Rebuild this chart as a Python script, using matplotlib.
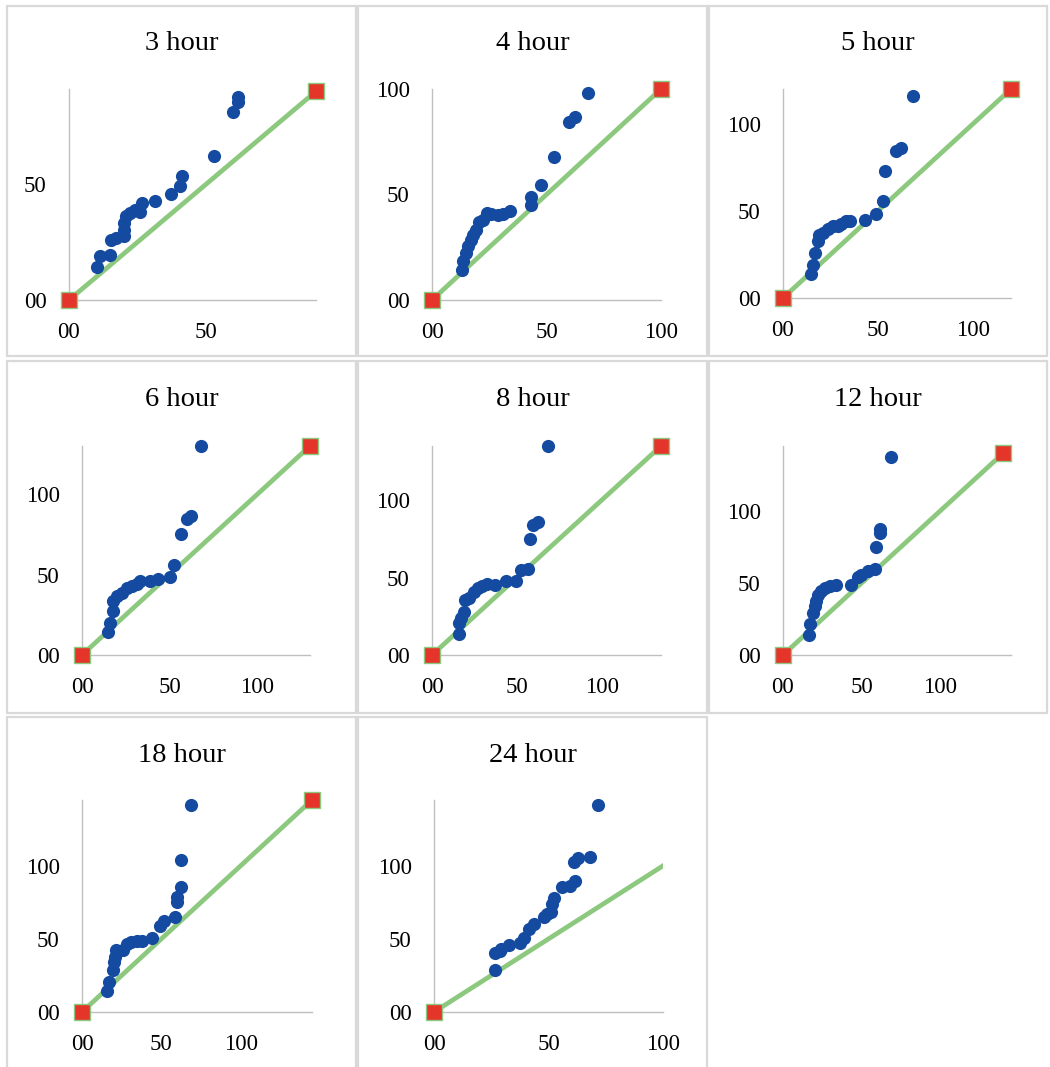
import matplotlib.pyplot as plt
from matplotlib.patches import Rectangle

plt.rcParams['font.family'] = ['Liberation Serif', 'DejaVu Serif']

# observed vs expected, one list pair per duration
titles = ['3 hour', '4 hour', '5 hour', '6 hour', '8 hour', '12 hour', '18 hour', '24 hour']

x_3h = [10.3, 11.2, 14.9, 15.2, 17.2, 19.9, 19.9, 20.2, 20.6, 22.1, 23.9, 25.7, 26.7, 31.4, 37.0, 40.6, 41.0, 52.9, 59.9, 61.7, 61.7]
y_3h = [14.1, 18.8, 19.6, 25.7, 26.8, 27.5, 30.4, 33.3, 36.2, 37.7, 38.8, 38.1, 41.7, 42.8, 45.7, 49.0, 53.3, 62.0, 81.2, 85.2, 87.7]

x_4h = [13.1, 13.6, 15.0, 15.7, 17.2, 17.9, 19.4, 20.4, 22.3, 24.2, 25.9, 28.9, 31.0, 34.0, 43.4, 43.4, 47.8, 53.1, 59.9, 62.4, 68.2]
y_4h = [14.0, 18.7, 22.2, 25.4, 28.6, 31.0, 33.3, 36.8, 38.1, 41.3, 40.8, 40.5, 40.8, 42.1, 45.2, 48.9, 54.3, 67.6, 84.4, 86.5, 97.9]

x_5h = [14.8, 15.7, 16.6, 18.3, 19.2, 20.9, 23.6, 26.2, 28.8, 30.5, 33.2, 35.3, 43.1, 48.9, 52.7, 53.6, 59.7, 62.0, 68.4]
y_5h = [14.0, 19.2, 25.9, 32.6, 36.4, 37.4, 39.7, 41.2, 41.6, 42.7, 44.1, 44.4, 45.0, 48.3, 55.6, 72.8, 84.3, 86.2, 115.9]

x_6h = [15.1, 16.0, 17.9, 17.9, 20.2, 22.6, 25.5, 28.3, 31.1, 33.0, 38.7, 43.4, 50.0, 52.5, 56.2, 60.0, 62.3, 67.9]
y_6h = [14.2, 19.8, 27.5, 33.8, 36.5, 38.5, 41.7, 42.7, 44.2, 45.8, 45.8, 47.3, 48.3, 55.8, 75.0, 84.4, 86.5, 130.0]

x_8h = [15.7, 15.7, 17.3, 18.9, 19.7, 22.0, 24.6, 27.2, 29.5, 32.5, 37.0, 43.9, 49.4, 52.2, 56.7, 57.7, 59.6, 62.2, 68.5]
y_8h = [13.4, 20.5, 23.7, 28.0, 35.6, 37.0, 40.9, 43.5, 44.8, 45.7, 45.3, 47.8, 48.1, 55.0, 55.6, 74.8, 84.1, 86.2, 134.7]

x_12h = [16.3, 16.9, 19.1, 20.6, 21.2, 22.2, 24.4, 26.9, 29.7, 33.9, 43.4, 47.7, 49.8, 54.0, 58.3, 59.3, 61.9, 61.9, 68.4]
y_12h = [14.0, 21.4, 29.1, 33.7, 37.7, 41.9, 44.2, 46.5, 48.1, 48.8, 48.8, 54.0, 55.8, 58.6, 59.8, 74.9, 84.4, 87.2, 137.2]

x_18h = [15.8, 16.8, 19.6, 20.0, 20.6, 21.7, 25.9, 28.6, 31.2, 34.5, 37.7, 44.2, 49.1, 51.6, 58.5, 59.6, 60.0, 62.1, 62.1, 68.6]
y_18h = [14.1, 20.5, 28.9, 34.1, 37.5, 42.5, 42.5, 46.6, 47.7, 48.9, 48.4, 50.7, 59.1, 62.5, 65.2, 75.0, 78.4, 85.7, 103.9, 141.4]

x_24h = [26.5, 26.5, 28.7, 29.4, 32.6, 37.6, 39.5, 41.7, 43.8, 48.2, 49.3, 51.1, 51.4, 52.5, 55.7, 59.5, 61.6, 61.2, 62.9, 68.2, 71.8]
y_24h = [28.4, 40.2, 42.0, 43.2, 46.1, 47.3, 50.5, 56.8, 60.2, 65.2, 67.0, 68.2, 73.9, 77.7, 85.7, 86.4, 89.8, 102.3, 105.0, 105.7, 141.6]

series_x = [x_3h, x_4h, x_5h, x_6h, x_8h, x_12h, x_18h, x_24h]
series_y = [y_3h, y_4h, y_5h, y_6h, y_8h, y_12h, y_18h, y_24h]

# 1:1 reference line end value and axis maxima
diag_max = [90, 100, 120, 130, 135, 140, 145, 145]
x_max = [90, 100, 120, 130, 135, 145, 145, 100]
y_max = [91, 100, 120, 130, 135, 145, 145, 145]
x_ticks = [[0, 50], [0, 50, 100], [0, 50, 100], [0, 50, 100], [0, 50, 100], [0, 50, 100], [0, 50, 100], [0, 50, 100]]
y_ticks = [[0, 50], [0, 50, 100], [0, 50, 100], [0, 50, 100], [0, 50, 100], [0, 50, 100], [0, 50, 100], [0, 50, 100]]

W, H = 1050, 1067
fig = plt.figure(figsize=(W / 100, H / 100), dpi=100)

# panel boxes (pixels): columns and rows
cols = [(7, 356), (358, 707), (709, 1047)]
rows = [(6, 356), (361, 713), (717, 1070)]
# axes rectangles inside each panel (left, top, right, bottom in pixels)
ax_px = [(69, 89, 316, 300), (432, 89, 661, 300), (783, 89, 1011, 298),
         (82, 446, 310, 655), (432, 446, 661, 655), (783, 446, 1011, 655),
         (82, 800, 312, 1012), (434, 800, 663, 1012)]

blue = '#144aa0'
green = '#8cc97e'
red = '#e5352a'

for i in range(8):
    c0, c1 = cols[i % 3]
    r0, r1 = rows[i // 3]
    fig.patches.append(Rectangle((c0 / W, 1 - r1 / H), (c1 - c0) / W, (r1 - r0) / H,
                                 transform=fig.transFigure, fill=False,
                                 edgecolor='#d9d9d9', linewidth=1.6))
    fig.text((c0 + c1) / 2 / W, 1 - (r0 + 38) / H, titles[i], ha='center', va='center', fontsize=20.5)

    l, t, r, b = ax_px[i]
    ax = fig.add_axes([l / W, 1 - b / H, (r - l) / W, (b - t) / H])
    ax.set_xlim(0, x_max[i])
    ax.set_ylim(0, y_max[i])
    for s in ['top', 'right']:
        ax.spines[s].set_visible(False)
    for s in ['left', 'bottom']:
        ax.spines[s].set_color('#bfbfbf')
        ax.spines[s].set_linewidth(1.0)
    ax.set_xticks(x_ticks[i])
    ax.set_yticks(y_ticks[i])
    ax.set_xticklabels(['00' if v == 0 else str(v) for v in x_ticks[i]])
    ax.set_yticklabels(['00' if v == 0 else str(v) for v in y_ticks[i]])
    ax.tick_params(length=0, labelsize=16.5)
    ax.tick_params(axis='x', pad=16)
    ax.tick_params(axis='y', pad=16)

    d = diag_max[i]
    ax.plot([0, d], [0, d], color=green, linewidth=3.4, zorder=2, clip_on=True)
    ax.scatter(series_x[i], series_y[i], s=90, color=blue, zorder=3, clip_on=False, linewidths=0)
    ax.plot([0], [0], linestyle='none', marker='s', markersize=11.5,
            markerfacecolor=red, markeredgecolor=green, markeredgewidth=1.0,
            zorder=4, clip_on=False)
    ax.plot([d], [d], linestyle='none', marker='s', markersize=11.5,
            markerfacecolor=red, markeredgecolor=green, markeredgewidth=1.0,
            zorder=4, clip_on=(x_max[i] < d))

fig.savefig('out.png', dpi=100)
